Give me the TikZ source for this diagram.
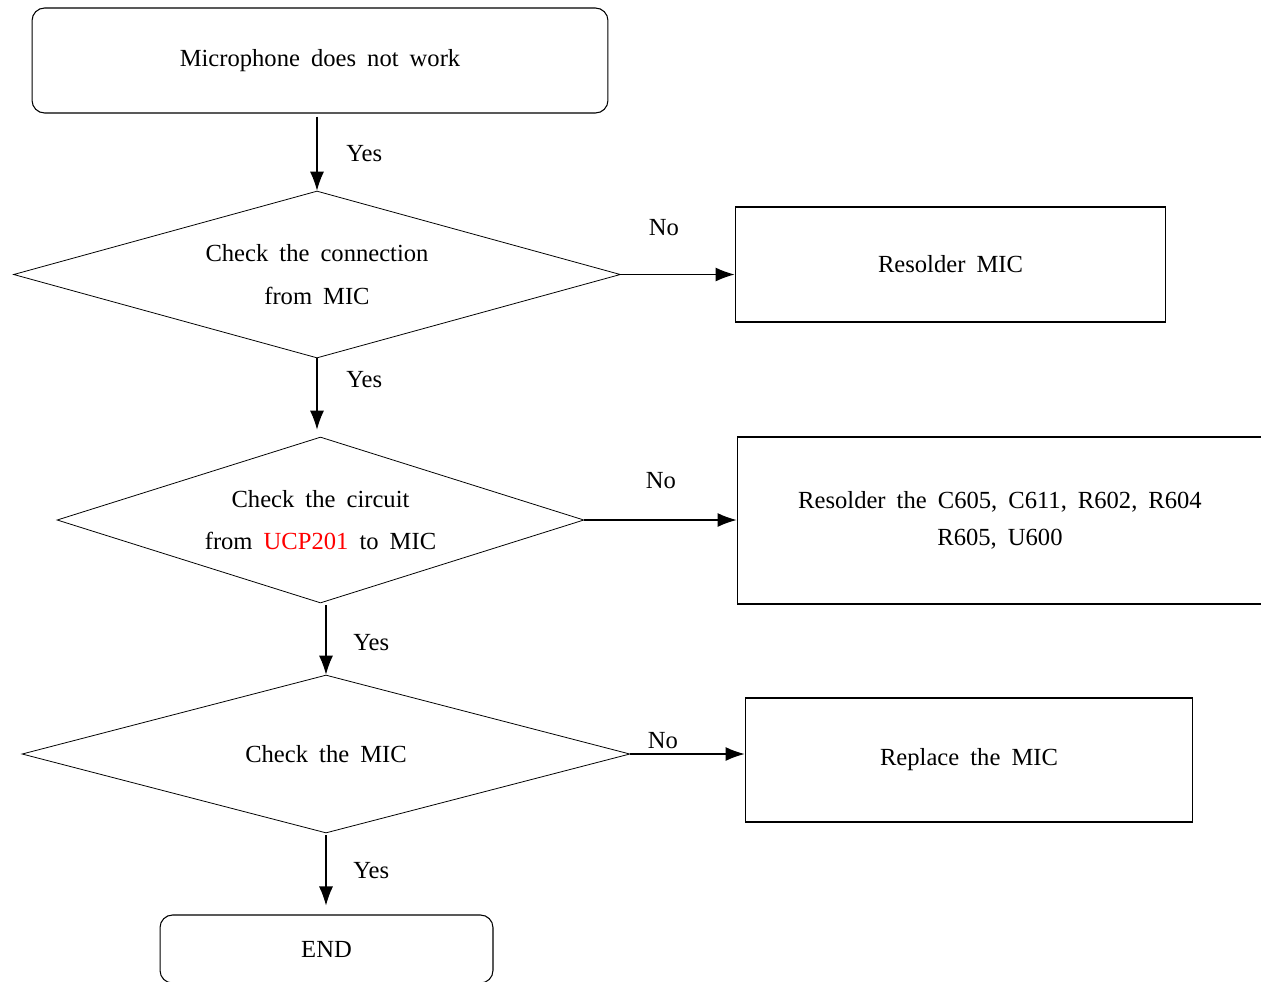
\documentclass[tikz,border=0pt]{standalone}
\usepackage{fontspec}
\setmainfont{Liberation Serif}[WordSpace=1.8]
\usepackage{xcolor}
\usetikzlibrary{shapes.geometric,arrows.meta}

\begin{document}
\begin{tikzpicture}[x=0.02cm,y=-0.02cm,
  txt/.style={font=\fontsize{14}{24}\selectfont},
  termbox/.style={draw,rounded corners=0.25cm,line width=0.6pt,txt},
  actbox/.style={draw,line width=0.6pt,txt,align=center},
  test/.style={draw,diamond,inner sep=0pt,line width=0.45pt,txt,align=center},
  lbl/.style={inner sep=0pt,txt},
  arr/.style={line width=0.6pt,-{Latex[length=0.38cm,width=0.28cm]}}]
\useasboundingbox (0,0) rectangle (1261,981);
\clip (0,0) rectangle (1261,981);
\node[termbox,minimum width=11.52cm,minimum height=2.1cm] (start) at (320,60.5) {Microphone does not work};
\node[test,aspect=3.63,minimum width=12.14cm,minimum height=3.34cm] (d1) at (317,274.5) {Check the connection\\from MIC};
\node[test,aspect=3.17,minimum width=10.54cm,minimum height=3.32cm] (d2) at (320.5,520) {Check the circuit\\from \textcolor{red}{UCP201} to MIC};
\node[test,aspect=3.85,minimum width=12.16cm,minimum height=3.16cm] (d3) at (326,754) {Check the MIC};
\node[termbox,minimum width=6.66cm,minimum height=1.36cm] (end) at (326.5,949) {END};
\node[actbox,minimum width=8.62cm,minimum height=2.3cm] (r1) at (950.5,264.5) {Resolder MIC};
\node[actbox,minimum width=10.52cm,minimum height=3.34cm,font=\fontsize{14}{21}\selectfont] (r2) at (1000,520.5) {Resolder the C605, C611, R602, R604\\R605, U600};
\node[actbox,minimum width=8.96cm,minimum height=2.48cm] (r3) at (969,760) {Replace the MIC};
\draw[arr] (d1.north |- start.south) ++(0,3) -- (d1.north);
\draw[arr,shorten >=0.14cm] (d1.south) -- (d1.south |- d2.north);
\draw[arr] (d3.north |- d2.south) ++(0,2) -- (d3.north);
\draw[arr,shorten >=0.18cm] (d3.south) ++(0,2) -- (d3.south |- end.north);
\draw[arr] (d1.east) -- (d1.east -| r1.west);
\draw[arr] (d2.east) -- (d2.east -| r2.west);
\draw[arr] (d3.east) -- (d3.east -| r3.west);
\node[lbl,anchor=west] (y1) at (346,154) {Yes};
\node[lbl,anchor=west] (y2) at (346,380) {Yes};
\node[lbl,anchor=west] (y3) at (353,643) {Yes};
\node[lbl,anchor=west] (y4) at (353,871) {Yes};
\node[lbl] (n1) at (664,228) {No};
\node[lbl] (n2) at (661,481) {No};
\node[lbl] (n3) at (663,741) {No};
\end{tikzpicture}
\end{document}
